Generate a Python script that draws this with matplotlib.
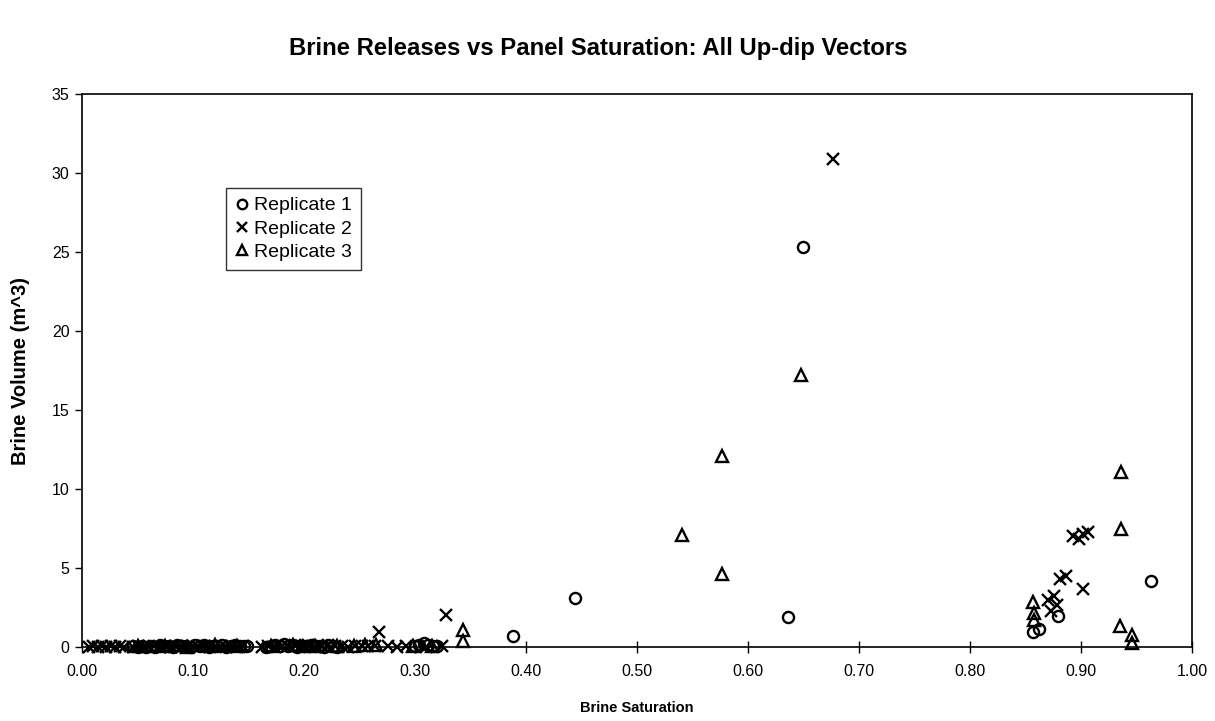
import matplotlib
matplotlib.use("Agg")
import matplotlib.pyplot as plt
from matplotlib.ticker import FormatStrFormatter

plt.rcParams['font.family'] = ['Liberation Sans', 'DejaVu Sans']

# Replicate 1 (circles)
rep1_x = [0.046, 0.050, 0.054, 0.058, 0.062, 0.066, 0.070, 0.074, 0.078, 0.082, 0.086,
          0.090, 0.094, 0.098, 0.102, 0.106, 0.110, 0.114, 0.118, 0.122, 0.126, 0.130,
          0.134, 0.138, 0.142, 0.146, 0.149,
          0.166, 0.170, 0.174, 0.178, 0.182, 0.186, 0.190, 0.194, 0.198, 0.202, 0.206,
          0.210, 0.214, 0.218, 0.222, 0.226, 0.230,
          0.300, 0.304, 0.308, 0.312, 0.316, 0.320,
          0.388, 0.444, 0.636, 0.650, 0.857, 0.862, 0.879, 0.963]
rep1_y = [0.05, 0.02, 0.08, 0.03, 0.06, 0.01, 0.10, 0.04, 0.07, 0.02, 0.12,
          0.05, 0.09, 0.03, 0.14, 0.06, 0.10, 0.02, 0.08, 0.04, 0.11, 0.03,
          0.07, 0.13, 0.05, 0.09, 0.04,
          0.02, 0.08, 0.15, 0.05, 0.20, 0.07, 0.12, 0.03, 0.09, 0.05, 0.11,
          0.04, 0.08, 0.02, 0.10, 0.06, 0.03,
          0.04, 0.15, 0.25, 0.10, 0.05, 0.08,
          0.70, 3.10, 1.90, 25.30, 0.95, 1.15, 1.95, 4.15]

# Replicate 2 (crosses)
rep2_x = [0.006, 0.010, 0.014, 0.018, 0.022, 0.026, 0.030, 0.034, 0.038,
          0.046, 0.050, 0.055, 0.060, 0.065, 0.070, 0.075, 0.080, 0.085, 0.090, 0.095,
          0.100, 0.105, 0.110, 0.115, 0.120, 0.125, 0.130, 0.135, 0.140, 0.145,
          0.162, 0.168, 0.174, 0.180, 0.186, 0.192, 0.198, 0.204, 0.210, 0.216, 0.222,
          0.228, 0.234, 0.240, 0.246, 0.252, 0.258, 0.264,
          0.276, 0.284, 0.292, 0.310, 0.324,
          0.268, 0.328, 0.677, 0.870, 0.873, 0.876, 0.878, 0.881, 0.887,
          0.893, 0.898, 0.902, 0.906, 0.902]
rep2_y = [0.02, 0.05, 0.01, 0.04, 0.02, 0.06, 0.03, 0.05, 0.02,
          0.02, 0.05, 0.01, 0.04, 0.07, 0.02, 0.05, 0.03, 0.06, 0.02, 0.04,
          0.08, 0.03, 0.05, 0.02, 0.06, 0.04, 0.03, 0.07, 0.02, 0.05,
          0.03, 0.06, 0.02, 0.08, 0.04, 0.10, 0.05, 0.12, 0.03, 0.07, 0.15,
          0.05, 0.09, 0.03, 0.06, 0.04, 0.08, 0.05,
          0.06, 0.02, 0.04, 0.03, 0.05,
          0.95, 2.00, 30.90, 3.00, 2.30, 3.20, 2.65, 4.30, 4.50,
          7.00, 6.85, 7.15, 7.25, 3.70]

# Replicate 3 (triangles)
rep3_x = [0.050, 0.075, 0.095, 0.120, 0.140, 0.170, 0.190, 0.210, 0.230, 0.245,
          0.255, 0.265, 0.298, 0.315,
          0.343, 0.343, 0.541, 0.577, 0.577, 0.648, 0.857, 0.858, 0.858,
          0.936, 0.936, 0.935, 0.946, 0.946]
rep3_y = [0.05, 0.08, 0.03, 0.10, 0.06, 0.04, 0.12, 0.07, 0.09, 0.05,
          0.10, 0.15, 0.05, 0.08,
          1.05, 0.35, 7.10, 12.10, 4.60, 17.20, 2.85, 2.15, 1.70,
          11.10, 7.50, 1.30, 0.75, 0.25]

x_ticks = [0.0, 0.1, 0.2, 0.3, 0.4, 0.5, 0.6, 0.7, 0.8, 0.9, 1.0]
y_ticks = [0, 5, 10, 15, 20, 25, 30, 35]

fig = plt.figure(figsize=(12.15, 7.21), dpi=100)
ax = fig.add_axes([0.0675, 0.1026, 0.9135, 0.767])

ms = 8
ax.plot(rep1_x, rep1_y, linestyle='none', marker='o', markersize=ms, markerfacecolor='none',
        markeredgecolor='black', markeredgewidth=1.7, label='Replicate 1', clip_on=False)
ax.plot(rep2_x, rep2_y, linestyle='none', marker='x', markersize=ms + 1, markeredgecolor='black',
        markeredgewidth=1.7, label='Replicate 2', clip_on=False)
ax.plot(rep3_x, rep3_y, linestyle='none', marker='^', markersize=ms, markerfacecolor='none',
        markeredgecolor='black', markeredgewidth=1.7, label='Replicate 3', clip_on=False)

ax.set_xlim(0, 1.0)
ax.set_ylim(0, 35)
ax.set_xticks(x_ticks)
ax.set_yticks(y_ticks)
ax.xaxis.set_major_formatter(FormatStrFormatter('%.2f'))
ax.tick_params(axis='x', direction='inout', length=8, width=1, labelsize=11.5, pad=8)
ax.tick_params(axis='y', direction='out', length=5, width=1, labelsize=11.5, pad=4)
for s in ax.spines.values():
    s.set_linewidth(1.2)
    s.set_color('black')

ax.set_xlabel('Brine Saturation', fontsize=10.5, fontweight='bold', labelpad=16)
ax.set_ylabel('Brine Volume (m^3)', fontsize=14.5, fontweight='bold', labelpad=16)

fig.text(0.492, 0.933, 'Brine Releases vs Panel Saturation: All Up-dip Vectors',
         ha='center', va='center', fontsize=17.2, fontweight='bold')

leg = ax.legend(loc='upper left', bbox_to_anchor=(0.130, 0.83), fontsize=14,
                frameon=True, fancybox=False, handlelength=0.7, handletextpad=0.3,
                borderpad=0.45, labelspacing=0.3, borderaxespad=0, markerscale=0.85)
leg.get_frame().set_edgecolor('black')
leg.get_frame().set_linewidth(1.0)

fig.savefig('out.png', dpi=100)
